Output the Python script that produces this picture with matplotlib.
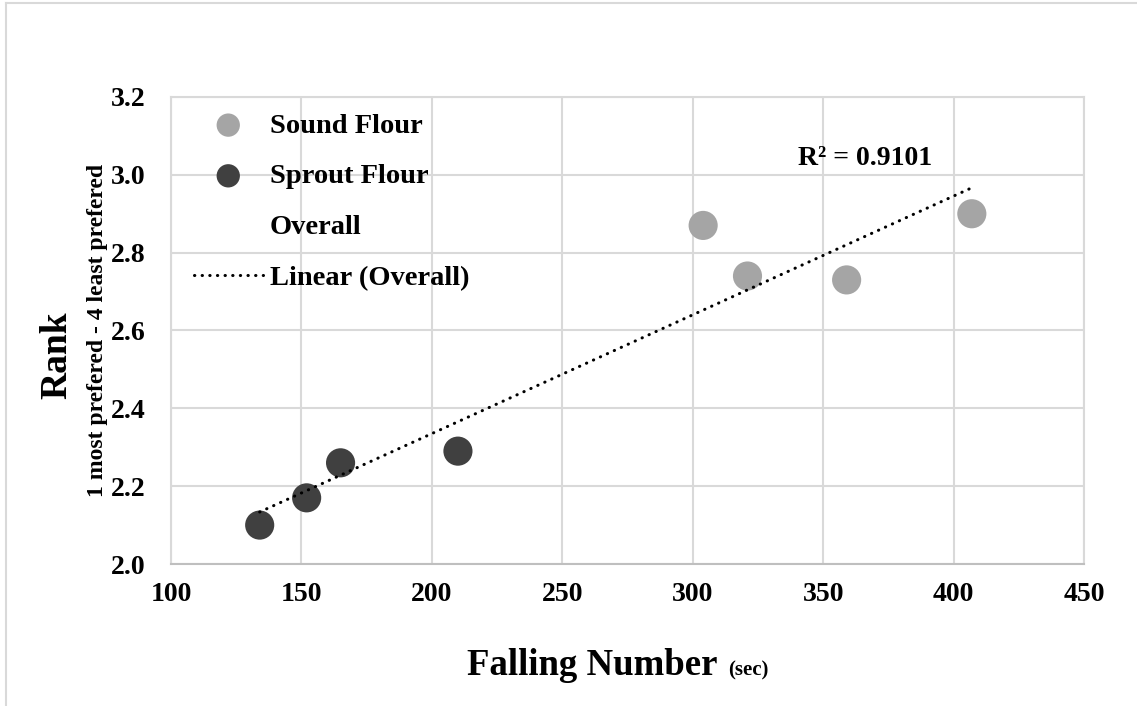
import numpy as np
import matplotlib
matplotlib.use("Agg")
import matplotlib.pyplot as plt
from matplotlib.lines import Line2D
from matplotlib.transforms import IdentityTransform

# data
sound_fn = [304, 321, 359, 407]
sound_rank = [2.87, 2.74, 2.73, 2.90]
sprout_fn = [134, 152, 165, 210]
sprout_rank = [2.10, 2.17, 2.26, 2.29]
r2_text = "R² = 0.9101"

plt.rcParams['font.family'] = ['Liberation Serif', 'DejaVu Serif']
plt.rcParams['font.weight'] = 'bold'

fig = plt.figure(figsize=(11.37, 7.06), dpi=100)
ax = fig.add_axes([171/1137, 1-564/706, (1084-171)/1137, (564-97)/706])

all_fn = np.array(sound_fn + sprout_fn)
all_rank = np.array(sound_rank + sprout_rank)

ax.scatter(sound_fn, sound_rank, s=440, color='#A5A5A5', edgecolors='none',
           label='Sound Flour', zorder=3)
ax.scatter(sprout_fn, sprout_rank, s=440, color='#404040', edgecolors='none',
           label='Sprout Flour', zorder=3)
ax.plot(all_fn, all_rank, linestyle='none', marker='none', label='Overall')

# linear trend over all points
k, b = np.polyfit(all_fn, all_rank, 1)
xs = np.array([all_fn.min(), all_fn.max()])
ax.plot(xs, k*xs + b, color='black', lw=2.2, linestyle=(0, (0.1, 2.4)),
        dash_capstyle='round', label='Linear (Overall)', zorder=4)

ax.set_xlim(100, 450)
ax.set_ylim(2.0, 3.2)
ax.set_xticks(np.arange(100, 451, 50))
ax.set_yticks(np.arange(2.0, 3.21, 0.2))
ax.yaxis.set_major_formatter(matplotlib.ticker.FormatStrFormatter('%.1f'))
ax.grid(True, color='#D9D9D9', lw=1.5)
ax.set_axisbelow(True)
for side in ['top', 'right', 'left']:
    ax.spines[side].set_color('#D9D9D9')
    ax.spines[side].set_linewidth(1.5)
ax.spines['bottom'].set_color('#BFBFBF')
ax.spines['bottom'].set_linewidth(1.5)
ax.tick_params(axis='both', length=0, labelsize=20)
ax.tick_params(axis='x', pad=13)
ax.tick_params(axis='y', pad=18)

ax.text(798, 706-165, r2_text, transform=IdentityTransform(),
        fontsize=20, fontweight='bold')

ax.legend(loc='upper left', bbox_to_anchor=(7/913, 1.0), frameon=False,
          fontsize=20.5, handlelength=2.43, handletextpad=0.25,
          labelspacing=0.87, borderaxespad=0.15, markerscale=0.8)

fig.text(467/1137, 1-675/706, "Falling Number", fontsize=26.5, fontweight='bold',
         ha='left', va='baseline')
fig.text(728/1137, 1-675/706, "(sec)", fontsize=15, fontweight='bold',
         ha='left', va='baseline')
fig.text(57/1137, 1-355/706, "Rank", fontsize=27, fontweight='bold',
         rotation=90, ha='center', va='center')
fig.text(98/1137, 1-330/706, "1 most prefered - 4 least prefered", fontsize=17,
         fontweight='bold', rotation=90, ha='center', va='center')

# outer chart border
fig.add_artist(Line2D([6/1137, 6/1137], [0, 1-3/706], color='#D9D9D9', lw=1.5))
fig.add_artist(Line2D([6/1137, 1136/1137], [1-3/706, 1-3/706], color='#D9D9D9', lw=1.5))

fig.savefig("out.png", dpi=100)
